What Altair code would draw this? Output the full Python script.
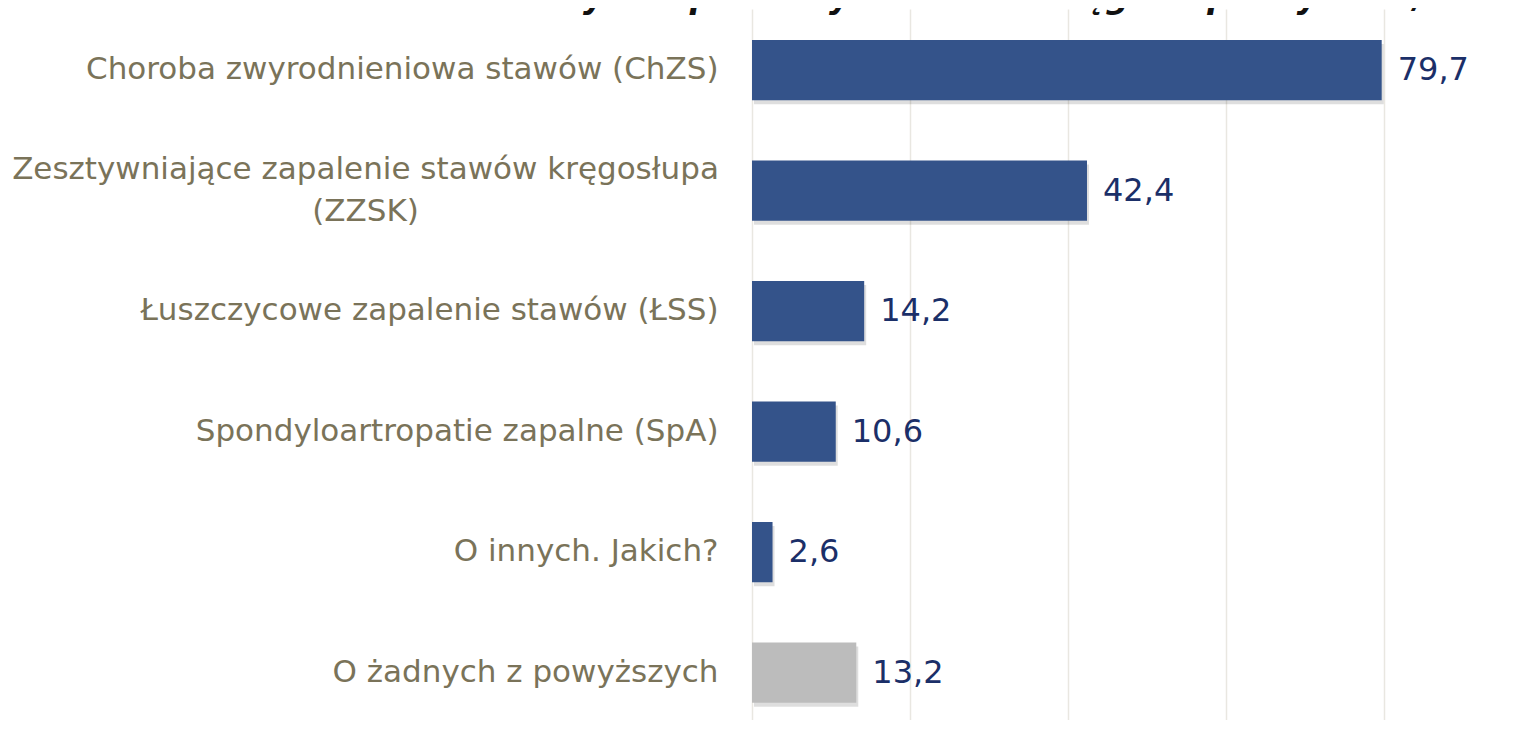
import altair as alt
import pandas as pd

categories = [
    "Choroba zwyrodnieniowa stawów (ChZS)",
    "Zesztywniające zapalenie stawów kręgosłupa (ZZSK)",
    "Łuszczycowe zapalenie stawów (ŁSS)",
    "Spondyloartropatie zapalne (SpA)",
    "O innych. Jakich?",
    "O żadnych z powyższych",
]
values = [79.7, 42.4, 14.2, 10.6, 2.6, 13.2]
groups = ["choroba", "choroba", "choroba", "choroba", "choroba", "brak"]
title_text = "O których z poniższych chorób kręgosłupa słyszała/eś?"

df = pd.DataFrame({
    "kategoria": categories,
    "wartosc": values,
    "grupa": groups,
    "etykieta": [f"{v:.1f}".replace(".", ",") for v in values],
})

LABEL_FS = 31
long_label = categories[1]
test_long = f"datum.label == '{long_label}'"
label_expr = (
    f"{test_long} ? "
    f"['Zesztywniające zapalenie stawów kręgosłupa', '(ZZSK)'] : datum.label"
)

y_enc = alt.Y(
    "kategoria:N",
    sort=categories,
    title=None,
    scale=alt.Scale(paddingInner=0.5, paddingOuter=0.2, align=0.642),
    axis=alt.Axis(
        domain=False, ticks=False,
        labelPadding={"condition": {"test": test_long, "value": 387}, "value": 34},
        labelAlign={"condition": {"test": test_long, "value": "center"}, "value": "right"},
        labelOffset={"condition": {"test": test_long, "value": -21}, "value": 0},
        labelFontSize=LABEL_FS,
        labelFont="DejaVu Sans", labelColor="#7a7359", labelLimit=900,
        labelExpr=label_expr, labelLineHeight=42,
    ),
)
x_enc = alt.X(
    "wartosc:Q",
    title=None,
    scale=alt.Scale(domain=[0, 96.7], nice=False),
    axis=alt.Axis(
        values=[0, 20, 40, 60, 80], labels=False, ticks=False, domain=False,
        grid=True, gridColor="#e9e7e1", gridWidth=1.5,
    ),
)

base = alt.Chart(df)

shadow = base.mark_bar(color="#000000", opacity=0.13, xOffset=2, yOffset=4).encode(
    x=x_enc, y=y_enc
)
bars = base.mark_bar().encode(
    x=x_enc,
    y=y_enc,
    color=alt.Color(
        "grupa:N",
        scale=alt.Scale(domain=["choroba", "brak"], range=["#34538a", "#bcbcbc"]),
        legend=None,
    ),
)
texts = base.mark_text(
    align="left", baseline="middle", dx=16, fontSize=32,
    font="DejaVu Sans", color="#1b2f68",
).encode(x="wartosc:Q", y=alt.Y("kategoria:N", sort=categories), text="etykieta:N")

chart = (
    alt.layer(shadow, bars, texts)
    .properties(
        width=764,
        height=711,
        padding={"left": 744, "top": 1, "right": 0, "bottom": 0},
        autosize=alt.AutoSizeParams(type="none"),
        title=alt.TitleParams(
            title_text, fontSize=33, fontStyle="italic", fontWeight="bold",
            font="DejaVu Sans", color="#111111", anchor="middle", dx=-157, offset=-6,
        ),
    )
    .configure_view(stroke=None)
)

chart.save("out.html", embed_options={"renderer": "svg", "actions": False})
